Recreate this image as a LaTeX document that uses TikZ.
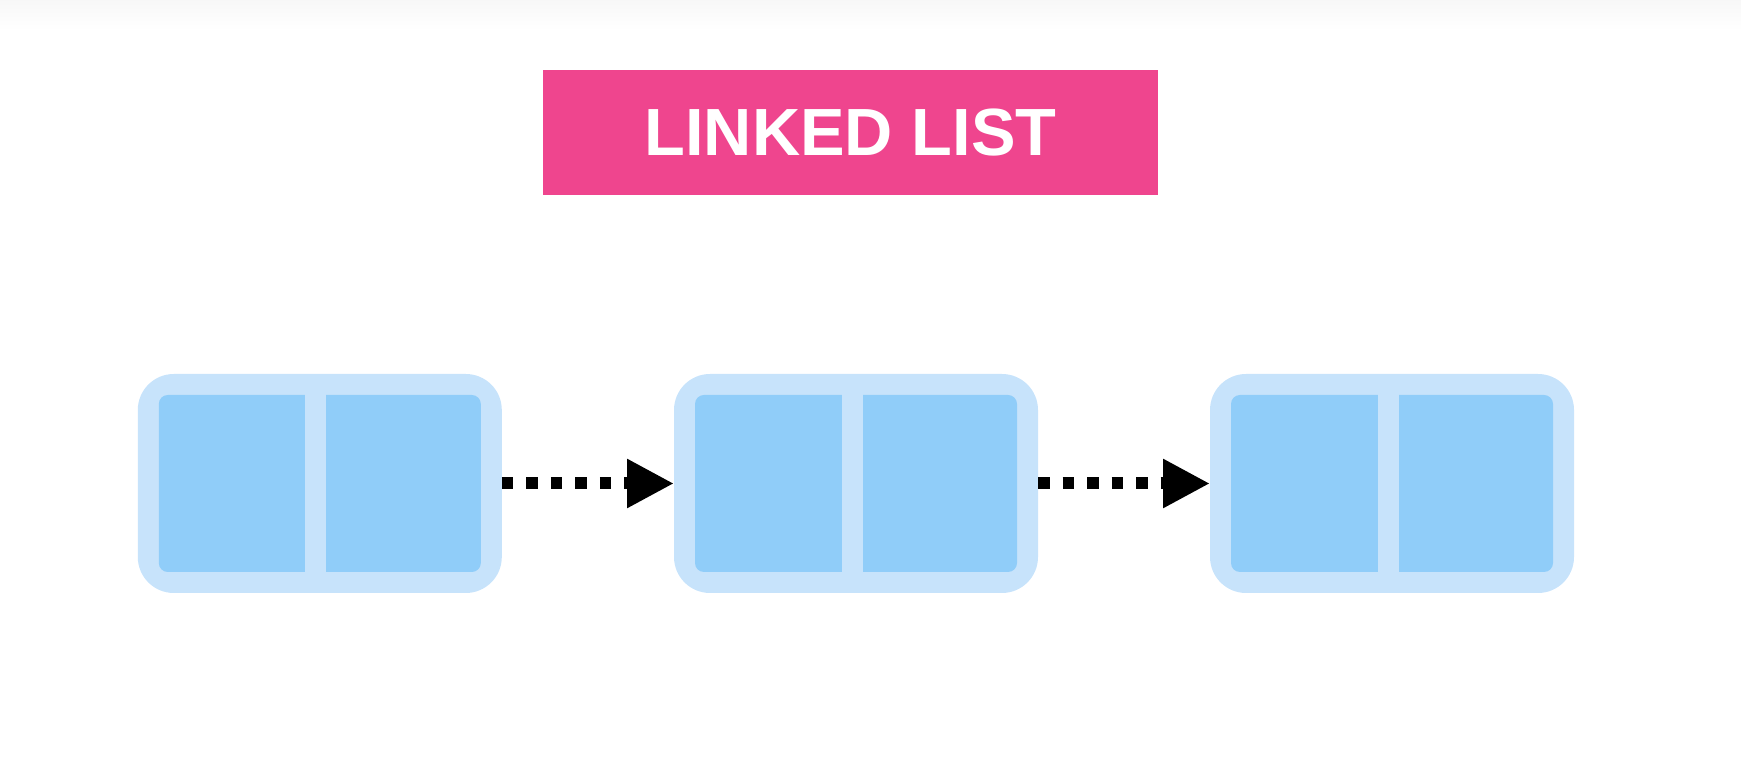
\documentclass[tikz,border=0pt]{standalone}
\usepackage{fontspec}
\setmainfont{Liberation Sans}
\usetikzlibrary{arrows.meta}
\definecolor{titlepink}{RGB}{239,69,142}
\definecolor{frameblue}{RGB}{199,227,251}
\definecolor{cellblue}{RGB}{144,205,249}
\begin{document}
\begin{tikzpicture}[
    banner/.style ={rectangle, fill=titlepink, text=white, font=\fontsize{19}{20}\selectfont\bfseries,
                   minimum width=6.15cm, minimum height=1.25cm, inner sep=0pt},
    listnode/.style ={rectangle, rounded corners=0.36cm, fill=frameblue,
                   minimum width=3.64cm, minimum height=2.19cm, inner sep=0pt, outer sep=0pt},
    cellpair/.style ={rectangle, rounded corners=0.09cm, fill=cellblue,
                   minimum width=3.22cm, minimum height=1.77cm, inner sep=0pt},
    divider/.style ={rectangle, fill=frameblue, minimum width=0.21cm, minimum height=1.79cm, inner sep=0pt},
    link/.style ={line width=0.12cm, dash pattern=on 0.115cm off 0.13cm,
                   -{Triangle[length=0.47cm, width=0.46cm]}}]
   \useasboundingbox (0,0) rectangle (17.41,7.71);
   \shade[top color=black!3, bottom color=white] (0,7.41) rectangle (17.41,7.71);

   \node[banner] (T) at (8.505,6.383) {LINKED LIST};

   \node[listnode] (A)  at (3.198,2.875) {};
   \node[listnode] (B)  at (8.56,2.875)  {};
   \node[listnode] (C)  at (13.92,2.875) {};
   \node[cellpair] (A cells) at (A.center) {};
   \node[cellpair] (B cells) at (B.center) {};
   \node[cellpair] (C cells) at (C.center) {};
   \node[divider] (A div) at ([xshift=-0.04cm]A.center) {};
   \node[divider] (B div) at ([xshift=-0.04cm]B.center) {};
   \node[divider] (C div) at ([xshift=-0.04cm]C.center) {};

   \draw[link] (A) to (B);
   \draw[link] (B) to (C);
 \end{tikzpicture}
\end{document}
